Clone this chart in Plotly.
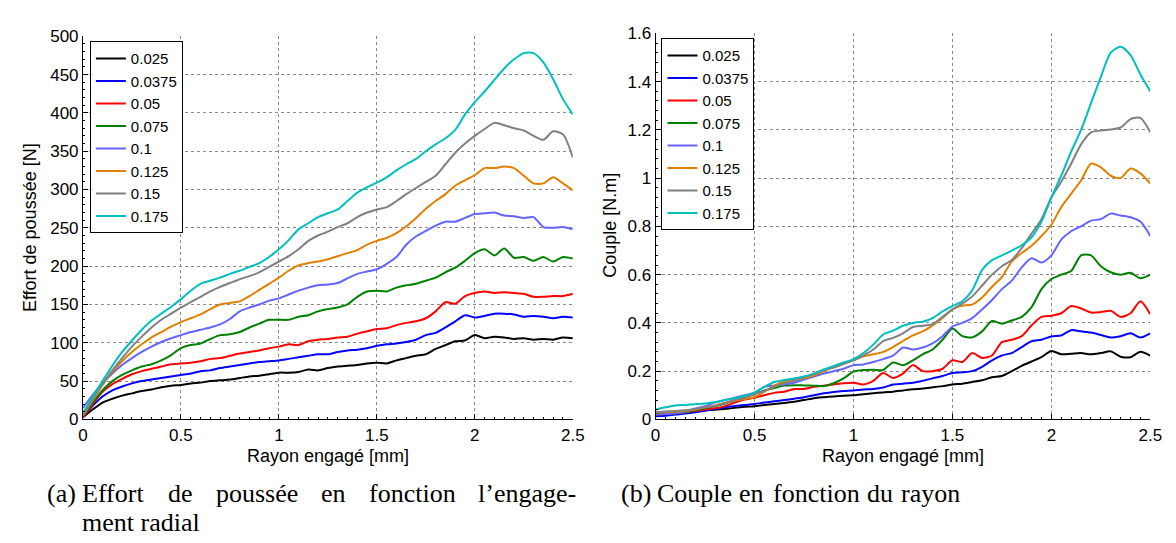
import plotly.graph_objects as go

# rayon engage [mm], pas de 0.05
rayon = [round(i * 0.05, 2) for i in range(51)]

labels = ["0.025", "0.0375", "0.05", "0.075", "0.1", "0.125", "0.15", "0.175"]
colors = ["#000000", "#0000ff", "#ff0000", "#008000", "#6464ff", "#df8000", "#808080", "#00bfbf"]

# (a) effort de poussee [N]
effort_0025 = [3, 13, 22, 27, 31, 34, 37, 39, 42, 44, 45, 47, 48, 50, 51, 52, 54, 56, 57, 59,
               61, 61, 62, 65, 64, 67, 69, 70, 71, 73, 74, 73, 77, 80, 83, 85, 92, 97, 102, 103,
               110, 106, 108, 107, 105, 106, 104, 105, 104, 107, 106]
effort_00375 = [3, 18, 30, 38, 43, 47, 50, 52, 54, 56, 58, 60, 63, 64, 67, 69, 71, 73, 75, 76,
                77, 79, 81, 83, 85, 85, 88, 90, 91, 93, 96, 98, 99, 101, 104, 110, 113, 120, 128, 136,
                133, 135, 138, 138, 137, 134, 135, 134, 132, 134, 133]
effort_005 = [3, 20, 36, 46, 53, 59, 63, 66, 69, 72, 73, 74, 76, 79, 80, 83, 86, 88, 90, 93,
              95, 98, 97, 102, 104, 105, 107, 108, 112, 115, 118, 119, 123, 126, 128, 132, 141, 153, 151, 161,
              165, 167, 165, 166, 165, 164, 160, 160, 161, 161, 164]
effort_0075 = [5, 22, 38, 50, 58, 64, 69, 72, 77, 84, 93, 97, 99, 105, 110, 111, 114, 120, 125, 130,
               130, 130, 134, 136, 141, 144, 146, 150, 160, 167, 168, 167, 172, 175, 177, 181, 185, 192, 198, 207,
               217, 222, 214, 223, 211, 212, 207, 212, 206, 212, 210]
effort_01 = [15, 32, 47, 60, 71, 80, 88, 95, 101, 106, 110, 114, 117, 120, 124, 131, 141, 146, 150, 155,
             158, 163, 168, 172, 175, 176, 178, 184, 190, 193, 196, 203, 212, 228, 239, 246, 253, 258, 258, 263,
             268, 269, 270, 266, 265, 263, 264, 251, 250, 251, 248]
effort_0125 = [5, 25, 45, 62, 76, 88, 98, 107, 114, 121, 127, 132, 137, 144, 150, 152, 154, 161, 169, 177,
               185, 194, 201, 204, 206, 209, 213, 217, 221, 228, 233, 237, 243, 252, 263, 275, 285, 294, 305, 312,
               319, 328, 328, 330, 328, 318, 308, 308, 316, 308, 299]
effort_015 = [6, 27, 46, 64, 80, 95, 108, 120, 130, 138, 146, 153, 160, 167, 173, 178, 183, 187, 192, 199,
              206, 213, 222, 233, 240, 245, 251, 256, 264, 270, 274, 277, 285, 294, 302, 310, 318, 333, 348, 360,
              370, 379, 387, 384, 380, 377, 370, 365, 376, 372, 342]
effort_0175 = [8, 30, 50, 70, 88, 103, 117, 129, 138, 147, 157, 168, 177, 181, 185, 190, 194, 199, 204, 212,
               222, 234, 248, 256, 264, 269, 274, 285, 296, 303, 309, 316, 325, 333, 340, 350, 359, 367, 378, 398,
               414, 428, 443, 458, 470, 478, 478, 466, 444, 418, 398]

# (b) couple [N.m]
couple_0025 = [0.02, 0.022, 0.026, 0.03, 0.035, 0.038, 0.04, 0.043, 0.048, 0.052, 0.055, 0.06, 0.064, 0.068, 0.073,
               0.08, 0.088, 0.092, 0.095, 0.098, 0.1, 0.104, 0.108, 0.112, 0.115, 0.12, 0.125, 0.128, 0.133, 0.138,
               0.145, 0.148, 0.155, 0.162, 0.175, 0.18, 0.2, 0.222, 0.24, 0.258, 0.284, 0.27, 0.272, 0.275, 0.27,
               0.275, 0.282, 0.26, 0.258, 0.28, 0.264]
couple_00375 = [0.013, 0.015, 0.02, 0.024, 0.03, 0.036, 0.043, 0.05, 0.056, 0.06, 0.064, 0.07, 0.075, 0.08, 0.086,
                0.092, 0.1, 0.108, 0.114, 0.118, 0.12, 0.124, 0.126, 0.132, 0.145, 0.148, 0.152, 0.16, 0.17, 0.18,
                0.192, 0.195, 0.2, 0.218, 0.245, 0.265, 0.275, 0.3, 0.324, 0.33, 0.344, 0.348, 0.37, 0.365, 0.36,
                0.35, 0.34, 0.345, 0.357, 0.34, 0.357]
couple_005 = [0.02, 0.022, 0.025, 0.03, 0.035, 0.041, 0.046, 0.055, 0.07, 0.082, 0.09, 0.1, 0.11, 0.115, 0.126,
              0.126, 0.135, 0.14, 0.145, 0.15, 0.152, 0.145, 0.16, 0.192, 0.172, 0.19, 0.225, 0.2, 0.2, 0.21,
              0.245, 0.238, 0.275, 0.255, 0.265, 0.32, 0.33, 0.345, 0.39, 0.425, 0.43, 0.44, 0.47, 0.46, 0.443,
              0.445, 0.45, 0.425, 0.44, 0.49, 0.436]
couple_0075 = [0.02, 0.022, 0.025, 0.03, 0.038, 0.047, 0.055, 0.066, 0.08, 0.093, 0.105, 0.12, 0.13, 0.14, 0.142,
               0.141, 0.14, 0.138, 0.15, 0.17, 0.198, 0.205, 0.206, 0.205, 0.236, 0.225, 0.245, 0.27, 0.29, 0.33,
               0.377, 0.345, 0.34, 0.365, 0.408, 0.397, 0.41, 0.425, 0.465, 0.54, 0.582, 0.6, 0.615, 0.68, 0.68,
               0.635, 0.61, 0.6, 0.608, 0.585, 0.6]
couple_01 = [0.02, 0.022, 0.026, 0.032, 0.045, 0.055, 0.07, 0.08, 0.09, 0.1, 0.11, 0.135, 0.14, 0.145, 0.152,
             0.165, 0.178, 0.19, 0.2, 0.21, 0.225, 0.228, 0.238, 0.25, 0.264, 0.298, 0.29, 0.298, 0.315, 0.345,
             0.385, 0.4, 0.42, 0.456, 0.495, 0.54, 0.575, 0.63, 0.668, 0.65, 0.68, 0.745, 0.78, 0.8, 0.824,
             0.83, 0.853, 0.845, 0.838, 0.82, 0.76]
couple_0125 = [0.03, 0.03, 0.032, 0.035, 0.04, 0.05, 0.058, 0.068, 0.078, 0.085, 0.093, 0.115, 0.14, 0.157, 0.165,
               0.17, 0.183, 0.2, 0.217, 0.232, 0.245, 0.262, 0.27, 0.28, 0.3, 0.325, 0.348, 0.365, 0.39, 0.42,
               0.456, 0.472, 0.476, 0.505, 0.55, 0.59, 0.655, 0.69, 0.72, 0.76, 0.807, 0.88, 0.935, 0.99, 1.06,
               1.045, 1.01, 1.0, 1.04, 1.02, 0.978]
couple_015 = [0.03, 0.033, 0.035, 0.038, 0.043, 0.05, 0.055, 0.068, 0.08, 0.09, 0.105, 0.118, 0.135, 0.15, 0.16,
              0.175, 0.19, 0.205, 0.215, 0.23, 0.245, 0.265, 0.29, 0.325, 0.338, 0.357, 0.383, 0.388, 0.395, 0.425,
              0.456, 0.48, 0.51, 0.555, 0.6, 0.635, 0.661, 0.71, 0.77, 0.83, 0.92, 0.985, 1.06, 1.14, 1.19,
              1.197, 1.202, 1.21, 1.245, 1.25, 1.19]
couple_0175 = [0.04, 0.05, 0.058, 0.06, 0.063, 0.066, 0.072, 0.08, 0.088, 0.098, 0.112, 0.135, 0.155, 0.163, 0.17,
               0.178, 0.19, 0.207, 0.222, 0.236, 0.25, 0.275, 0.31, 0.352, 0.368, 0.388, 0.4, 0.405, 0.42, 0.448,
               0.47, 0.49, 0.535, 0.62, 0.66, 0.68, 0.7, 0.722, 0.755, 0.82, 0.92, 1.01, 1.11, 1.2, 1.31,
               1.42, 1.52, 1.545, 1.51, 1.43, 1.36]

effort = [effort_0025, effort_00375, effort_005, effort_0075, effort_01, effort_0125, effort_015, effort_0175]
couple = [couple_0025, couple_00375, couple_005, couple_0075, couple_01, couple_0125, couple_015, couple_0175]

W, H = 1176, 543


def px(x):
    return x / W


def py(y):
    return 1 - y / H


fig = go.Figure()
for lab, col, ya, yb in zip(labels, colors, effort, couple):
    fig.add_trace(go.Scatter(x=rayon, y=ya, name=lab, mode="lines", xaxis="x", yaxis="y",
                             line=dict(color=col, width=2, shape="spline", smoothing=0.7),
                             legend="legend"))
    fig.add_trace(go.Scatter(x=rayon, y=yb, name=lab, mode="lines", xaxis="x2", yaxis="y2",
                             line=dict(color=col, width=2, shape="spline", smoothing=0.7),
                             legend="legend2"))

tickfont = dict(family="Liberation Sans, Arial, sans-serif", size=17, color="black")
titlefont = dict(family="Liberation Sans, Arial, sans-serif", size=18, color="black")
legfont = dict(family="Liberation Sans, Arial, sans-serif", size=15, color="black")
serif = dict(family="Liberation Serif, Times New Roman, serif", size=26, color="black")

axis_style = dict(showline=True, linecolor="black", linewidth=1, mirror=False,
                  ticks="inside", ticklen=5, tickcolor="black", tickfont=tickfont,
                  showgrid=True, gridcolor="#8a8a8a", griddash="dot", gridwidth=1,
                  zeroline=False)

fig.update_layout(
    width=W, height=H,
    margin=dict(l=0, r=0, t=0, b=0),
    paper_bgcolor="white", plot_bgcolor="white",
    showlegend=True,
    xaxis=dict(domain=[px(71), px(568)], range=[0, 2.5], dtick=0.5, anchor="y",
               minor=dict(ticks="inside", ticklen=2, dtick=0.05, tickcolor="black", showgrid=False),
               **axis_style),
    yaxis=dict(domain=[py(417), py(20)], range=[0, 500], dtick=50, anchor="x",
               minor=dict(ticks="inside", ticklen=2, dtick=10, tickcolor="black", showgrid=False),
               **axis_style),
    xaxis2=dict(domain=[px(652), px(1154)], range=[0, 2.5], dtick=0.5, anchor="y2",
                minor=dict(ticks="inside", ticklen=2, dtick=0.05, tickcolor="black", showgrid=False),
                **axis_style),
    yaxis2=dict(domain=[py(417), py(17)], range=[0, 1.6], dtick=0.2, anchor="x2",
                minor=dict(ticks="inside", ticklen=2, dtick=0.04, tickcolor="black", showgrid=False),
                **axis_style),
    legend=dict(x=px(78), y=py(25), xanchor="left", yanchor="top",
                bgcolor="white", bordercolor="black", borderwidth=1,
                font=legfont, tracegroupgap=0, itemwidth=30),
    legend2=dict(x=px(658), y=py(22), xanchor="left", yanchor="top",
                 bgcolor="white", bordercolor="black", borderwidth=1,
                 font=legfont, tracegroupgap=0, itemwidth=30),
)

annotations = [
    dict(text="Rayon engagé [mm]", x=px(320), y=py(455), font=titlefont),
    dict(text="Rayon engagé [mm]", x=px(903), y=py(455), font=titlefont),
    dict(text="Effort de poussée [N]", x=px(18), y=py(218), textangle=-90, font=titlefont),
    dict(text="Couple [N.m]", x=px(606), y=py(216), textangle=-90, font=titlefont),
]
for a in annotations:
    a.update(xref="paper", yref="paper", showarrow=False, xanchor="center", yanchor="middle")
    fig.add_annotation(**a)

# legendes des sous-figures (ligne (a) justifiee mot par mot)
caption_a = [("(a)", 32), ("Effort", 68), ("de", 155), ("poussée", 204), ("en", 310),
             ("fonction", 359), ("l’engage-", 470)]
caption_a2 = [("ment radial", 68)]
caption_b = [("(b)", 615), ("Couple", 651), ("en", 735), ("fonction", 769), ("du", 864), ("rayon", 899)]
for words, ypix in [(caption_a, 494), (caption_a2, 524), (caption_b, 494)]:
    for w, xpix in words:
        fig.add_annotation(text=w, x=px(xpix), y=py(ypix), xref="paper", yref="paper",
                           showarrow=False, xanchor="left", yanchor="middle", font=serif)

fig.write_html("out.html")
